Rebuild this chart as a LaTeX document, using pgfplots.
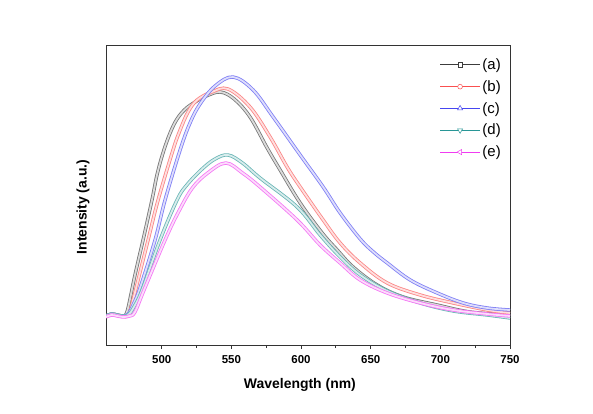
\documentclass[border=0pt]{standalone}
\usepackage{fontspec}
\setmainfont{Liberation Sans}
\usepackage{pgfplots}
\pgfplotsset{compat=1.18}
\definecolor{ca}{RGB}{60,60,60}
\definecolor{cb}{RGB}{250,80,80}
\definecolor{cc}{RGB}{70,70,240}
\definecolor{cd}{RGB}{40,150,150}
\definecolor{ce}{RGB}{240,60,240}
\pgfplotsset{band/.style={smooth, tension=0.6, draw=#1!70, double=#1!18, double distance=1.8bp, line width=0.8bp, forget plot}}
\begin{document}
\begin{tikzpicture}
\useasboundingbox (-106bp,-69bp) rectangle (487bp,345bp);
\begin{axis}[
 at={(0,0)}, anchor=south west,
 scale only axis, width=404bp, height=300bp,
 xmin=460, xmax=750, ymin=0, ymax=300,
 xtick={500,550,...,750}, minor xtick={475,525,...,725},
 ytick=\empty,
 xtick pos=bottom, tick align=outside,
 major tick length=4bp, minor tick length=3bp,
 axis line style={line width=0.9bp, black!80},
 every tick/.style={black!80, line width=0.8bp},
 /pgf/number format/assume math mode=true,
 xticklabel style={font=\fontsize{11.5}{13}\selectfont\bfseries, yshift=-3bp},
 xlabel={Wavelength (nm)}, ylabel={Intensity (a.u.)},
 every axis x label/.style={at={(axis description cs:0.48,-0.133)},anchor=center,font=\fontsize{14}{16}\selectfont\bfseries},
 every axis y label/.style={at={(axis description cs:-0.057,0.46)},rotate=90,anchor=center,font=\fontsize{14}{16}\selectfont\bfseries},
 legend style={draw=none, fill=none, at={(axis description cs:0.985,0.965)}, anchor=north east,
   font=\fontsize{15}{17}\selectfont, row sep=5.5bp, inner sep=1bp},
 legend cell align=left,
 legend image code/.code={\draw[mark repeat=2,mark phase=2,#1] plot coordinates {(0bp,0bp)(20bp,0bp)(40bp,0bp)};},
]
\addplot[band=ca] coordinates {
(460,29)(464,31)(468,30)(472,29)(474,30)(476,38)(480.8,70)(486.6,105)(493,145)(496.6,170)(500.9,192)(506,212)(511,226)(517,236)(524,243)(532,249)(542,253)(552,246)(563.4,228)(575.7,197)(585,175)(599.4,142)(615.2,112)(626,95)(637.4,78)(654.7,60)(673.4,48)(697.8,40)(721.5,33)(750,30)};
\addplot[band=cb] coordinates {
(460,29)(464,31)(468,30)(472,29)(476,30)(479.4,45)(490.2,105)(497.4,145)(508.1,195)(513.2,215)(518.9,233)(525.4,245)(536,253)(547.6,256)(563.4,238)(577.8,208)(590,178)(599.4,158)(615.9,125)(628.1,102)(642.5,82)(661.9,62)(685.6,50)(709.3,42)(733.7,35)(750,32)};
\addplot[band=cc] coordinates {
(460,29)(464,31)(468,30)(472,29)(476,31)(479.4,40)(484.4,57)(495.2,105)(502.4,145)(513.2,195)(520.3,222)(527.5,241)(538.3,259)(551.2,268)(565.6,255)(580,228)(599.4,190)(615.9,158)(628.1,132)(642.5,106)(652,93)(661.9,82)(678.4,65)(697.8,52)(716.5,42)(733.7,37)(750,35)};
\addplot[band=cd] coordinates {
(460,29)(464,31)(468,30)(472,29)(476,30)(480,38)(485.9,55)(498.8,105)(511,145)(518,160)(529,176)(538.3,186)(547.6,190)(558,182)(570.6,167)(597.2,138)(613.7,110)(628.1,88)(642.5,70)(661.9,54)(685.6,42)(709.3,34)(733.7,30)(750,27)};
\addplot[band=ce] coordinates {
(460,28)(464,30)(468,29)(472,28)(477,29)(480.8,33)(487.3,55)(502.4,105)(512,133)(522,157)(533,172)(546,182)(558,172)(570.6,158)(597.2,125)(613.7,100)(628.1,82)(642.5,65)(661.9,52)(685.6,42)(709.3,35)(733.7,31)(750,29)};
\addlegendimage{ca, line width=0.8bp, mark=square*, mark size=2.2bp, mark options={fill=white,solid,line width=0.5bp}}
\addlegendentry{(a)}
\addlegendimage{cb, line width=0.8bp, mark=*, mark size=2.4bp, mark options={fill=white,solid,line width=0.5bp}}
\addlegendentry{(b)}
\addlegendimage{cc, line width=0.8bp, mark=triangle*, mark size=3bp, mark options={fill=white,solid,line width=0.5bp}}
\addlegendentry{(c)}
\addlegendimage{cd, line width=0.8bp, mark=triangle*, mark size=3bp, mark options={fill=white,solid,line width=0.5bp,rotate=180}}
\addlegendentry{(d)}
\addlegendimage{ce, line width=0.8bp, mark=triangle*, mark size=3bp, mark options={fill=white,solid,line width=0.5bp,rotate=90}}
\addlegendentry{(e)}
\end{axis}
\end{tikzpicture}
\end{document}
